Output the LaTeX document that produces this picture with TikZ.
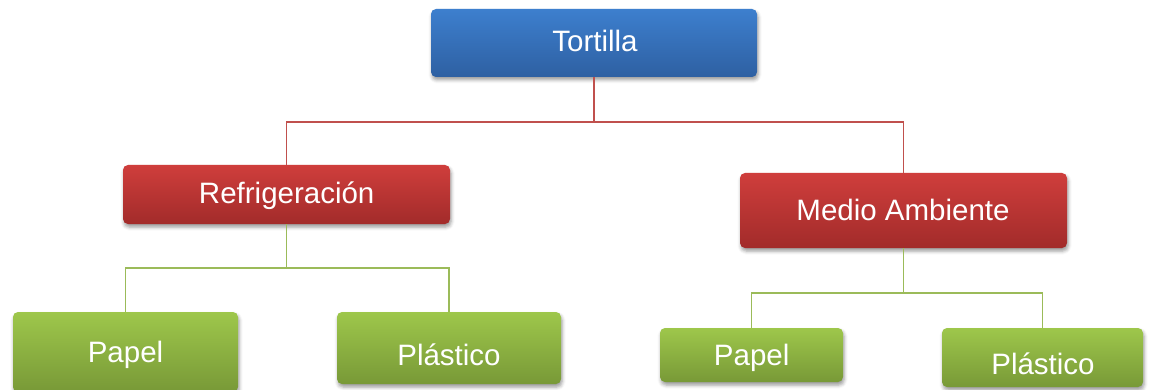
\documentclass[tikz,border=0pt]{standalone}
\usepackage{fontspec}
\setmainfont{Liberation Sans}
\usetikzlibrary{shadows.blur}
\definecolor{bluetop}{HTML}{3D7FCE}
\definecolor{bluebot}{HTML}{2E60A2}
\definecolor{redtop}{HTML}{CF3E3C}
\definecolor{redbot}{HTML}{A22B2A}
\definecolor{greentop}{HTML}{9EC74B}
\definecolor{greenbot}{HTML}{789937}
\definecolor{redln}{HTML}{C0504D}
\definecolor{greenln}{HTML}{9BBB59}
\tikzset{
  box/.style={rectangle, rounded corners=5pt, draw=none, inner sep=0pt,
    blur shadow={shadow xshift=1pt, shadow yshift=-3pt, shadow blur radius=3.5pt, shadow opacity=40}},
  bluebox/.style={box, top color=bluetop, bottom color=bluebot},
  redbox/.style={box, top color=redtop, bottom color=redbot},
  greenbox/.style={box, top color=greentop, bottom color=greenbot},
  lbl/.style={anchor=base, inner sep=0pt, text=white, font=\fontsize{29.5}{34}\selectfont},
  redline/.style={draw=redln, line width=1.5pt},
  greenline/.style={draw=greenln, line width=1.8pt},
}
\begin{document}
\begin{tikzpicture}[x=1pt, y=-1pt]
\useasboundingbox (0,0) rectangle (1150,390);
% boxes
\node[bluebox, minimum width=326pt, minimum height=68pt] (tort) at (594,43) {};
\node[redbox, minimum width=327pt, minimum height=59pt] (refr) at (286.5,194.5) {};
\node[redbox, minimum width=327pt, minimum height=75pt] (medio) at (903.5,210.5) {};
\node[greenbox, minimum width=225pt, minimum height=80pt] (lpap) at (125.5,352) {};
\node[greenbox, minimum width=224pt, minimum height=72pt] (lplast) at (449,348) {};
\node[greenbox, minimum width=183pt, minimum height=54pt] (rpap) at (751.5,355) {};
\node[greenbox, minimum width=201pt, minimum height=59pt] (rplast) at (1042.5,357.5) {};
% labels
\node[lbl] (tortT) at (595,52) {Tortilla};
\node[lbl] (refrT) at (286.7,204) {Refrigeración};
\node[lbl] (medioT) at (903,220) {Medio Ambiente};
\node[lbl] (lpapT) at (125.5,362) {Papel};
\node[lbl] (lplastT) at (449,365) {Plástico};
\node[lbl] (rpapT) at (751.7,365) {Papel};
\node[lbl] (rplastT) at (1043,374) {Plástico};
% junctions
\coordinate (rj) at (594,122);
\coordinate (glj) at (286.5,268);
\coordinate (grj) at (903.5,293);
% connectors
\draw[redline] (tort.south) -- (rj);
\draw[redline] (rj) -| (refr.north);
\draw[redline] (rj) -| (medio.north);
\draw[greenline] (refr.south) -- (glj);
\draw[greenline] (glj) -| (lpap.north);
\draw[greenline] (glj) -| (lplast.north);
\draw[greenline] (medio.south) -- (grj);
\draw[greenline] (grj) -| (rpap.north);
\draw[greenline] (grj) -| (rplast.north);
\end{tikzpicture}
\end{document}
